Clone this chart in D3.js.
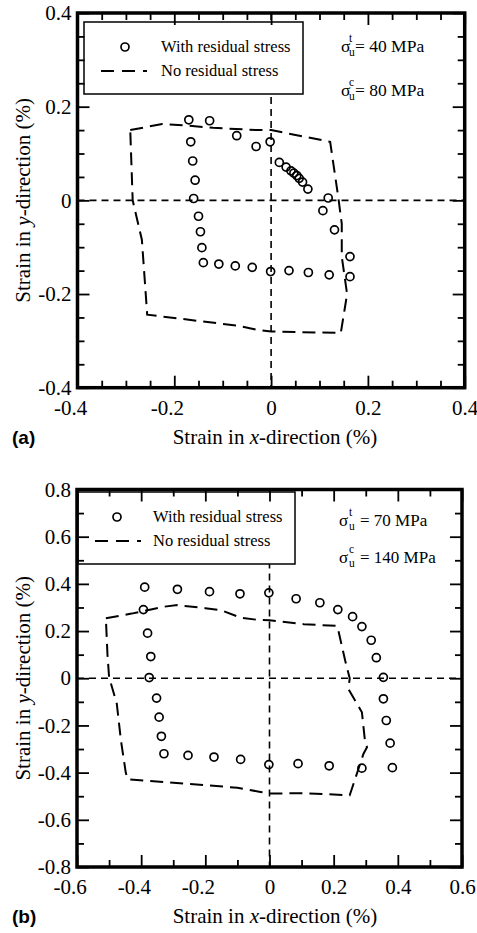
<!DOCTYPE html>
<html><head><meta charset="utf-8">
<script src="https://cdn.jsdelivr.net/npm/d3@7"></script>
<style>body{margin:0;background:#fff} svg{display:block}</style>
</head><body><svg id="c" width="477" height="933"></svg>
<script>
// ---------- DATA ----------
const legendLabels = ["With residual stress", "No residual stress"];
const axisTitleX = ["Strain in ", "x", "-direction (%)"];
const axisTitleY = ["Strain in ", "y", "-direction (%)"];

// Panel (a)
const ticksA = [-0.4, -0.2, 0, 0.2, 0.4];
const tickLabelsA = ["-0.4", "-0.2", "0", "0.2", "0.4"];
const minorStepA = 0.05;
const residualA = [
  [-0.170, 0.172], [-0.127, 0.170], [-0.071, 0.138], [-0.031, 0.115], [-0.002, 0.125],
  [0.017, 0.081], [0.031, 0.071], [0.041, 0.063], [0.047, 0.058], [0.053, 0.053],
  [0.058, 0.047], [0.065, 0.039], [0.076, 0.024],
  [0.118, 0.005], [0.107, -0.022], [0.131, -0.063], [0.163, -0.120], [0.163, -0.163],
  [0.120, -0.159], [0.077, -0.154], [0.037, -0.150], [-0.001, -0.152], [-0.039, -0.143],
  [-0.074, -0.140], [-0.108, -0.136], [-0.140, -0.133],
  [-0.143, -0.101], [-0.146, -0.067], [-0.150, -0.034], [-0.160, 0.004], [-0.157, 0.043],
  [-0.162, 0.084], [-0.166, 0.125]
];
const noResidualA = [
  [-0.291, 0.150], [-0.225, 0.163], [-0.180, 0.160], [-0.120, 0.155], [-0.030, 0.150],
  [0.000, 0.150], [0.122, 0.125], [0.139, 0.005], [0.146, -0.050], [0.146, -0.120],
  [0.157, -0.200], [0.144, -0.283], [0.000, -0.280], [-0.030, -0.276], [-0.067, -0.268],
  [-0.256, -0.244], [-0.267, -0.084], [-0.286, 0.000]
];
const strengthA = ["40 MPa", "80 MPa"];

// Panel (b)
const ticksBx = [-0.6, -0.4, -0.2, 0, 0.2, 0.4, 0.6];
const tickLabelsBx = ["-0.6", "-0.4", "-0.2", "0", "0.2", "0.4", "0.6"];
const ticksBy = [-0.8, -0.6, -0.4, -0.2, 0, 0.2, 0.4, 0.6, 0.8];
const tickLabelsBy = ["-0.8", "-0.6", "-0.4", "-0.2", "0", "0.2", "0.4", "0.6", "0.8"];
const minorStepB = 0.1;
const residualB = [
  [-0.389, 0.386], [-0.287, 0.377], [-0.187, 0.367], [-0.092, 0.358], [-0.002, 0.362],
  [0.083, 0.337], [0.157, 0.320], [0.213, 0.291], [0.259, 0.261], [0.288, 0.219],
  [0.317, 0.161], [0.333, 0.087], [0.355, 0.004],
  [0.355, -0.087], [0.364, -0.179], [0.376, -0.275], [0.383, -0.379],
  [0.288, -0.381], [0.186, -0.371], [0.089, -0.362], [-0.002, -0.366], [-0.090, -0.344],
  [-0.173, -0.334], [-0.254, -0.327], [-0.329, -0.320],
  [-0.337, -0.246], [-0.344, -0.165], [-0.352, -0.084], [-0.375, 0.003], [-0.370, 0.092],
  [-0.380, 0.191], [-0.393, 0.291]
];
const noResidualB = [
  [-0.510, 0.254], [-0.430, 0.274], [-0.330, 0.303], [-0.287, 0.310], [-0.200, 0.297],
  [-0.150, 0.288], [-0.090, 0.257], [-0.040, 0.248], [0.000, 0.246], [0.107, 0.229],
  [0.210, 0.222], [0.215, 0.200], [0.236, 0.074], [0.250, 0.000], [0.246, -0.046],
  [0.288, -0.144], [0.298, -0.271], [0.304, -0.292], [0.293, -0.320], [0.250, -0.496],
  [0.107, -0.487], [0.000, -0.489], [-0.028, -0.482], [-0.100, -0.464], [-0.442, -0.428],
  [-0.448, -0.400], [-0.463, -0.264], [-0.476, -0.108], [-0.494, -0.023], [-0.500, 0.005],
  [-0.505, 0.100]
];
const strengthB = ["70 MPa", "140 MPa"];

// ---------- DRAW ----------
const svg = d3.select("#c");
const SERIF = "'Liberation Serif', 'Times New Roman', serif";

function panel(o) {
  const g = svg.append("g");
  const x = d3.scaleLinear().domain([o.xT[0], o.xT[o.xT.length - 1]]).range([o.L, o.R]);
  const y = d3.scaleLinear().domain([o.yT[0], o.yT[o.yT.length - 1]]).range([o.B, o.T]);

  // reference lines
  g.append("line").attr("x1", o.L).attr("x2", o.R).attr("y1", y(0)).attr("y2", y(0))
    .attr("stroke", "#000").attr("stroke-width", 1.6).attr("stroke-dasharray", "7,5");
  g.append("line").attr("x1", x(0)).attr("x2", x(0)).attr("y1", o.T).attr("y2", o.B)
    .attr("stroke", "#000").attr("stroke-width", 1.6).attr("stroke-dasharray", "7,5");

  // no residual stress polygon
  g.append("path").datum(o.poly)
    .attr("d", d3.line().x(d => x(d[0])).y(d => y(d[1])).curve(d3.curveLinearClosed))
    .attr("fill", "none").attr("stroke", "#000").attr("stroke-width", 2)
    .attr("stroke-dasharray", "13,7");

  // with residual stress circles
  g.selectAll("circle.pt").data(o.pts).join("circle").attr("class", "pt")
    .attr("cx", d => x(d[0])).attr("cy", d => y(d[1])).attr("r", 4)
    .attr("fill", "none").attr("stroke", "#000").attr("stroke-width", 1.7);

  // legend
  const lg = o.leg;
  g.append("rect").attr("x", lg.x).attr("y", lg.y).attr("width", lg.w).attr("height", lg.h)
    .attr("fill", "#fff").attr("stroke", "#000").attr("stroke-width", 1.5);
  g.append("circle").attr("cx", lg.cx).attr("cy", lg.cy).attr("r", 4)
    .attr("fill", "none").attr("stroke", "#000").attr("stroke-width", 1.7);
  g.append("line").attr("x1", lg.lx1).attr("x2", lg.lx2).attr("y1", lg.ly).attr("y2", lg.ly)
    .attr("stroke", "#000").attr("stroke-width", 2).attr("stroke-dasharray", "13,8,13,8,4");
  g.append("text").attr("x", lg.tx).attr("y", lg.t1).text(legendLabels[0])
    .attr("font-family", SERIF).attr("font-size", 16.5);
  g.append("text").attr("x", lg.tx).attr("y", lg.t2).text(legendLabels[1])
    .attr("font-family", SERIF).attr("font-size", 16.5);

  // strength annotations
  const an = o.ann;
  [["t", o.str[0], an.b1, an.eq1], ["c", o.str[1], an.b2, an.eq2]].forEach(([sup, val, base, eq]) => {
    g.append("text").attr("x", an.sx).attr("y", base).text("σ")
      .attr("font-family", SERIF).attr("font-size", an.fs);
    g.append("text").attr("x", an.ux).attr("y", base + 4).text("u")
      .attr("font-family", SERIF).attr("font-size", 11.5);
    g.append("text").attr("x", an.ux).attr("y", base - 10).text(sup)
      .attr("font-family", SERIF).attr("font-size", 11.5);
    g.append("text").attr("x", an.ex).attr("y", base).text(eq + val)
      .attr("font-family", SERIF).attr("font-size", an.fs);
  });

  // axes ticks
  const mk = (t, step) => {
    const lo = t[0], hi = t[t.length - 1];
    return d3.range(Math.round((hi - lo) / step) + 1).map(i => +(lo + i * step).toFixed(4))
      .filter(v => !t.some(m => Math.abs(m - v) < 1e-6));
  };
  const minX = mk(o.xT, o.step), minY = mk(o.yT, o.step);
  const style = sel => {
    sel.select(".domain").remove();
    sel.selectAll("line").attr("stroke", "#000").attr("stroke-width", 1.8);
    sel.selectAll("text").attr("font-family", SERIF).attr("font-size", 21).attr("fill", "#000");
  };
  // bottom
  g.append("g").attr("transform", `translate(0,${o.B})`)
    .call(d3.axisBottom(x).tickValues(o.xT).tickFormat((d, i) => o.xL[i]).tickSizeInner(-12).tickSizeOuter(0).tickPadding(12))
    .call(style)
    .selectAll("text").attr("dx", (d, i) => o.xL[i].startsWith("-") ? "-0.35em" : 0);
  g.append("g").attr("transform", `translate(0,${o.B})`)
    .call(d3.axisBottom(x).tickValues(minX).tickFormat(() => "").tickSizeInner(-7).tickSizeOuter(0)).call(style);
  // top
  g.append("g").attr("transform", `translate(0,${o.T})`)
    .call(d3.axisTop(x).tickValues(o.xT).tickFormat(() => "").tickSizeInner(-12).tickSizeOuter(0)).call(style);
  g.append("g").attr("transform", `translate(0,${o.T})`)
    .call(d3.axisTop(x).tickValues(minX).tickFormat(() => "").tickSizeInner(-7).tickSizeOuter(0)).call(style);
  // left
  g.append("g").attr("transform", `translate(${o.L},0)`)
    .call(d3.axisLeft(y).tickValues(o.yT).tickFormat((d, i) => o.yL[i]).tickSizeInner(-12).tickSizeOuter(0).tickPadding(6))
    .call(style);
  g.append("g").attr("transform", `translate(${o.L},0)`)
    .call(d3.axisLeft(y).tickValues(minY).tickFormat(() => "").tickSizeInner(-7).tickSizeOuter(0)).call(style);
  // right
  g.append("g").attr("transform", `translate(${o.R},0)`)
    .call(d3.axisRight(y).tickValues(o.yT).tickFormat(() => "").tickSizeInner(-12).tickSizeOuter(0)).call(style);
  g.append("g").attr("transform", `translate(${o.R},0)`)
    .call(d3.axisRight(y).tickValues(minY).tickFormat(() => "").tickSizeInner(-7).tickSizeOuter(0)).call(style);

  // frame
  g.append("rect").attr("x", o.L).attr("y", o.T).attr("width", o.R - o.L).attr("height", o.B - o.T)
    .attr("fill", "none").attr("stroke", "#000").attr("stroke-width", 3.5);

  // axis titles
  const tx = g.append("text").attr("x", 275).attr("y", o.B + 56).attr("text-anchor", "middle")
    .attr("font-family", SERIF).attr("font-size", 21);
  tx.append("tspan").text(axisTitleX[0]);
  tx.append("tspan").attr("font-style", "italic").text(axisTitleX[1]);
  tx.append("tspan").text(axisTitleX[2]);

  const ty = g.append("text").attr("transform", `translate(30,${(o.T + o.B) / 2}) rotate(-90)`)
    .attr("text-anchor", "middle").attr("font-family", SERIF).attr("font-size", 21);
  ty.append("tspan").text(axisTitleY[0]);
  ty.append("tspan").attr("font-style", "italic").text(axisTitleY[1]);
  ty.append("tspan").text(axisTitleY[2]);

  // panel label
  g.append("text").attr("x", 12).attr("y", o.B + 56).text(o.label)
    .attr("font-family", "'Liberation Sans', Arial, sans-serif").attr("font-weight", "bold").attr("font-size", 19);
}

panel({
  L: 77.5, R: 464.7, T: 13, B: 387.7,
  xT: ticksA, xL: tickLabelsA, yT: ticksA, yL: tickLabelsA, step: minorStepA,
  pts: residualA, poly: noResidualA, str: strengthA, label: "(a)",
  leg: { x: 84, y: 22, w: 219, h: 72, cx: 125, cy: 47, lx1: 101, lx2: 147, ly: 71, tx: 161, t1: 52, t2: 76 },
  ann: { sx: 341, ux: 349, ex: 355, b1: 52, b2: 96, fs: 17.5, eq1: "= ", eq2: "= " }
});

panel({
  L: 77, R: 462, T: 489.5, B: 867,
  xT: ticksBx, xL: tickLabelsBx, yT: ticksBy, yL: tickLabelsBy, step: minorStepB,
  pts: residualB, poly: noResidualB, str: strengthB, label: "(b)",
  leg: { x: 78, y: 492, w: 217, h: 72, cx: 117, cy: 517, lx1: 95, lx2: 141, ly: 541, tx: 153, t1: 522, t2: 546 },
  ann: { sx: 339, ux: 349, ex: 360, b1: 526, b2: 563, fs: 17, eq1: "= ", eq2: "= " }
});
</script></body></html>
